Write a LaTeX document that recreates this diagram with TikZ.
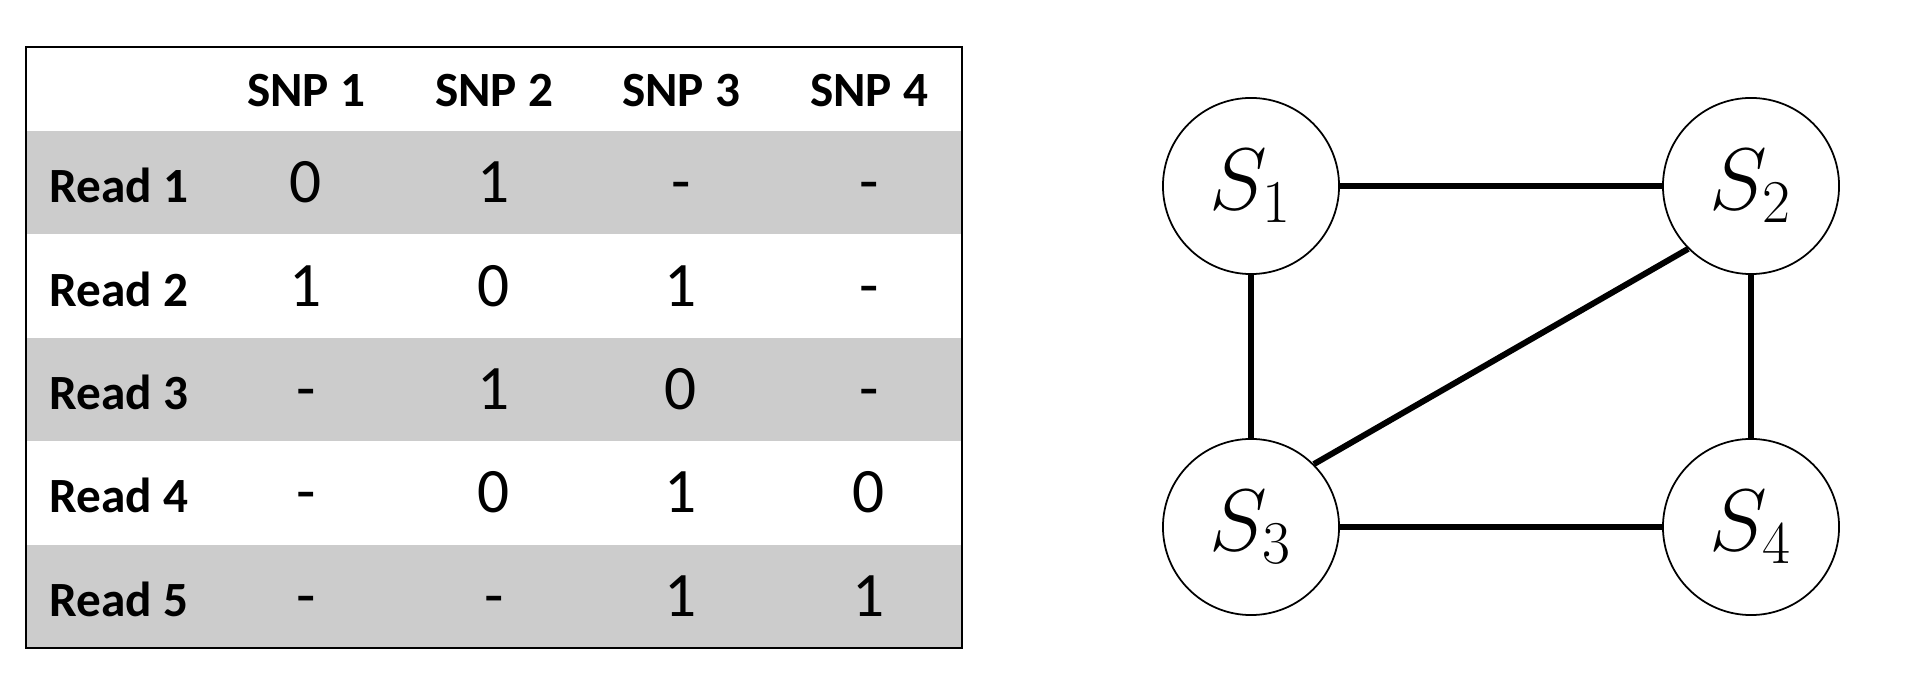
\documentclass[tikz,border=0pt]{standalone}
\usepackage{fontspec}
\setmainfont{Carlito}
\usepackage{amsmath}
\usepackage{tikz}

\begin{document}
\begin{tikzpicture}[x=0.01cm,y=0.01cm,
  head/.style={font=\fontsize{14}{16}\selectfont\bfseries, anchor=base},
  entry/.style={font=\fontsize{18}{20}\selectfont, anchor=base},
  snode/.style={draw, circle, line width=0.5pt, minimum size=1.76cm, inner sep=0pt, font=\fontsize{23}{27}\selectfont},
  edge/.style={line width=1.7pt}]
\useasboundingbox (0,0) rectangle (1912,682);
% table
\fill[gray!40] (26,447.6) rectangle (962,551);
\fill[gray!40] (26,240.8) rectangle (962,344.2);
\fill[gray!40] (26,34) rectangle (962,137.4);
\draw[line width=0.7pt] (26,34) rectangle (962,635);
\node[head] (snp1) at (306,575) {SNP 1};
\node[head] (snp2) at (494,575) {SNP 2};
\node[head] (snp3) at (681,575) {SNP 3};
\node[head] (snp4) at (869,575) {SNP 4};
\foreach \r/\a/\b/\c/\d in {1/0/1/-/-, 2/1/0/1/-, 3/-/1/0/-, 4/-/0/1/0, 5/-/-/1/1} {
  \node[head, anchor=base west, inner xsep=0pt] (read\r) at (49,{479.3-103.4*(\r-1)}) {Read \r};
  \node[entry] (v\r a) at (306,{479.3-103.4*(\r-1)}) {\a};
  \node[entry] (v\r b) at (494,{479.3-103.4*(\r-1)}) {\b};
  \node[entry] (v\r c) at (681,{479.3-103.4*(\r-1)}) {\c};
  \node[entry] (v\r d) at (869,{479.3-103.4*(\r-1)}) {\d};
}
% graph
\node[snode] (s1) at (1251,496) {$S_1$};
\node[snode] (s2) at (1751,496) {$S_2$};
\node[snode] (s3) at (1251,155) {$S_3$};
\node[snode] (s4) at (1751,155) {$S_4$};
\draw[edge] (s1) -- (s2);
\draw[edge] (s1) -- (s3);
\draw[edge] (s2) -- (s4);
\draw[edge] (s3) -- (s4);
\draw[edge] (s2.225) -- (s3.45);
\end{tikzpicture}
\end{document}
